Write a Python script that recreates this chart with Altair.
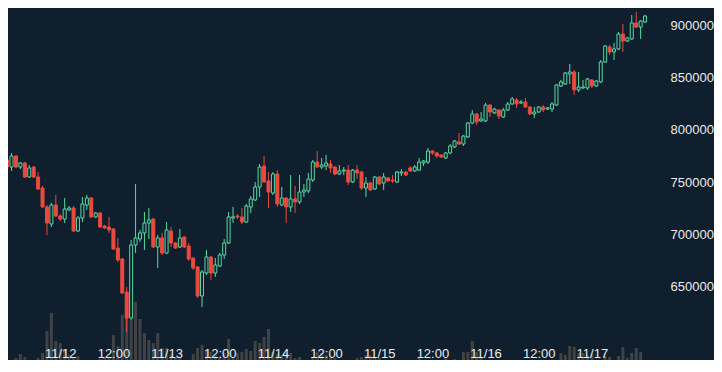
import altair as alt
import pandas as pd
import numpy as np

# BTC/JPY hourly candles, 2017-11-11 12:00 .. 2017-11-17 12:00 (UTC)
opens = [771200, 764400, 775000, 764400, 768300, 754800, 764400, 754800, 744200, 726000,
         709600, 727900, 717300, 714400, 723100, 725000, 702900, 715400, 727900, 734600,
         716400, 720200, 707700, 706700, 704800, 686500, 676000, 644200, 619200, 689400,
         695200, 701000, 710600, 714400, 687500, 696200, 681700, 702900, 691400, 687500,
         697100, 688500, 676900, 668300, 640400, 662500, 677900, 662500, 669200, 679800,
         691400, 715400, 717300, 716400, 711500, 726000, 732700, 745200, 765400, 751000,
         739400, 757700, 727900, 734600, 726000, 733700, 730800, 740400, 741400, 751900,
         769200, 764400, 765400, 767300, 764400, 757700, 760600, 761500, 750000, 761500,
         759600, 744200, 749000, 743300, 754800, 749000, 753900, 751900, 750000, 758700,
         759600, 763500, 760600, 761500, 768300, 769200, 779800, 777900, 776000, 773100,
         777900, 783700, 788500, 786500, 793300, 806700, 815400, 808700, 808700, 824000,
         816400, 819200, 812500, 819200, 825000, 828900, 826000, 826900, 822100, 815400,
         817300, 822100, 820200, 820200, 824000, 842300, 844200, 853800, 855800, 838500,
         840400, 840400, 848100, 842300, 846200, 865400, 879800, 875000, 877900, 892300,
         885600, 887500, 902900, 899000, 903800]

closes = [764400, 775000, 764400, 768300, 754800, 763500, 754800, 743300, 726000, 710600,
          727900, 717300, 714400, 724000, 725000, 702900, 715400, 728900, 734600, 716400,
          720200, 706700, 705800, 703900, 685600, 675000, 643300, 619200, 689400, 696200,
          701000, 710600, 713500, 687500, 696200, 681700, 703900, 691400, 686500, 696200,
          687500, 676000, 667300, 640400, 663500, 677900, 662500, 670200, 679800, 691400,
          716400, 716400, 716400, 711500, 726900, 733700, 745200, 764400, 750000, 740400,
          757700, 728900, 734600, 726000, 733700, 730800, 740400, 742300, 752900, 769200,
          764400, 766400, 768300, 763500, 757700, 760600, 761500, 750000, 761500, 758700,
          744200, 749000, 742300, 754800, 748100, 754800, 751000, 751000, 759600, 759600,
          756700, 760600, 764400, 769200, 770200, 779800, 777900, 775000, 774000, 777900,
          784600, 789400, 786500, 794200, 806700, 815400, 807700, 810600, 824000, 817300,
          820200, 813500, 819200, 825000, 829800, 825000, 826900, 822100, 815400, 817300,
          822100, 819200, 821200, 825000, 843300, 846200, 854800, 855800, 838500, 841300,
          841300, 849000, 842300, 847100, 865400, 880800, 875000, 877900, 892300, 885600,
          888500, 902900, 899000, 904800, 909600]

highs = [773100, 777900, 776000, 769200, 769200, 766400, 765400, 759600, 746200, 727900,
         729800, 737500, 719200, 734600, 726900, 726900, 717300, 735600, 737500, 735600,
         721200, 721200, 708700, 716400, 705800, 696200, 676900, 649100, 694200, 748100,
         703900, 721200, 725000, 715400, 699000, 701000, 711500, 706700, 692300, 704800,
         698100, 691400, 677900, 669200, 665400, 684600, 678900, 676900, 681700, 695200,
         721200, 726000, 719200, 725000, 728900, 736500, 750000, 767300, 775000, 759600,
         759600, 761500, 745200, 735600, 756700, 746200, 756700, 748100, 758700, 771200,
         779800, 773100, 776000, 771200, 765400, 766400, 764400, 766400, 762500, 766400,
         760600, 754800, 750000, 755800, 755800, 758700, 754800, 756700, 760600, 762500,
         760600, 765400, 766400, 773100, 771200, 782700, 780800, 778900, 776900, 778900,
         786500, 790400, 797100, 795200, 807700, 819200, 816400, 817300, 826000, 825000,
         821200, 820200, 821200, 826900, 831700, 830800, 828900, 830800, 823100, 822100,
         823100, 824000, 822100, 826900, 844200, 848100, 855800, 863500, 857700, 855800,
         848100, 850000, 849000, 848100, 867300, 881700, 881700, 883700, 894200, 901900,
         889400, 910600, 913500, 905800, 910600]

lows = [762500, 760600, 763500, 762500, 753900, 753900, 753900, 742300, 725000, 699000,
        706700, 716400, 712500, 710600, 722100, 701900, 701900, 711500, 723100, 715400,
        715400, 705800, 704800, 701000, 684600, 673100, 642300, 605800, 617300, 681700,
        692300, 684600, 695200, 686500, 667300, 679800, 680800, 687500, 685600, 686500,
        686500, 674000, 665400, 638500, 629800, 660600, 655800, 658700, 668300, 676000,
        690400, 710600, 714400, 709600, 710600, 720200, 731700, 735600, 749000, 725000,
        737500, 726000, 726900, 710600, 721200, 720200, 728900, 735600, 739400, 750000,
        763500, 762500, 761500, 758700, 756700, 756700, 756700, 747100, 749000, 752900,
        742300, 735600, 741400, 742300, 747100, 742300, 750000, 749000, 749000, 755800,
        755800, 759600, 759600, 760600, 765400, 767300, 776000, 773100, 773100, 772100,
        776900, 782700, 785600, 784600, 792300, 805800, 804800, 807700, 807700, 812500,
        815400, 810600, 811500, 818300, 824000, 821200, 825000, 821200, 814400, 811500,
        816400, 817300, 819200, 817300, 823100, 841300, 843300, 844200, 833700, 836500,
        839400, 838500, 840400, 841300, 845200, 864400, 872100, 867300, 876900, 875000,
        884600, 886500, 898100, 887500, 902900]

volumes = [90, 120, 140, 180, 150, 110, 100, 140, 190, 410,
           590, 310, 290, 230, 170, 150, 160, 80, 90, 90,
           110, 130, 150, 150, 370, 260, 570, 650, 520, 700,
           530, 390, 320, 290, 390, 240, 240, 180, 150, 150,
           120, 90, 180, 240, 270, 220, 200, 170, 150, 190,
           330, 150, 190,
           200, 230, 210, 310, 290, 350, 430, 200, 180, 170,
           190, 190, 140, 150, 100, 120, 150, 200, 190, 170,
           160, 140, 90, 80, 110, 110, 140, 150, 170, 170,
           150, 140, 120, 90, 70, 80, 60, 70, 70, 90,
           150, 110, 100, 90, 70, 60, 150, 90, 130, 100,
           200, 200, 310,
           200, 150, 110, 90, 70, 60, 60, 80, 90, 80,
           80, 90, 70, 100, 90, 70, 70, 80, 90, 190,
           170, 260, 250, 190, 190, 170, 180, 90, 100, 160,
           150, 90, 160, 250, 140, 190, 240, 200, 90]

price_ticks = [650000, 700000, 750000, 800000, 850000, 900000]
time_ticks = ["2017-11-12T00:00:00Z", "2017-11-12T12:00:00Z", "2017-11-13T00:00:00Z",
              "2017-11-13T12:00:00Z", "2017-11-14T00:00:00Z", "2017-11-14T12:00:00Z",
              "2017-11-15T00:00:00Z", "2017-11-15T12:00:00Z", "2017-11-16T00:00:00Z",
              "2017-11-16T12:00:00Z", "2017-11-17T00:00:00Z"]

BG = "#0f1f2e"
GREEN = "#55dba3"
RED = "#ec4a3e"
VOL = "#414243"
TEXT = "#ececec"
FONT = "Liberation Sans"

n = len(opens)
times = pd.date_range("2017-11-11 12:00", periods=n, freq="h")
df = pd.DataFrame({
    "t": times.strftime("%Y-%m-%dT%H:%M:%SZ"),
    "open": opens, "close": closes, "high": highs, "low": lows,
    "volume": volumes[:n],
})
df["dir"] = np.where(df["close"] >= df["open"], "up", "down")

tick_ms = [int(pd.Timestamp(s).value // 10**6) for s in time_ticks]

x_enc = alt.X(
    "t:T",
    scale=alt.Scale(type="utc",
                    domain=[alt.DateTime(year=2017, month=11, date=11, hours=13, minutes=20, utc=True),
                            alt.DateTime(year=2017, month=11, date=17, hours=13, minutes=7, utc=True)]),
    axis=alt.Axis(values=tick_ms, orient="bottom", offset=-13, ticks=False, domain=False,
                  grid=False, labelPadding=0, title=None, labelFontSize=13, labelColor=TEXT,
                  labelFont=FONT, labelOverlap=False, labelFlush=False, labelBound=False,
                  zindex=2,
                  labelExpr="utchours(datum.value) == 0 ? utcFormat(datum.value, '%m/%d') : utcFormat(datum.value, '%H:%M')"),
)

price_scale = alt.Scale(domain=[578860, 917300], nice=False, zero=False)
price_axis = alt.Axis(orient="right", values=price_ticks, format="d", labelAlign="left",
                      labelPadding=15, ticks=False, domain=False, grid=False, title=None,
                      labelFontSize=13, labelColor=TEXT, labelFont=FONT, zindex=2)

base = alt.Chart(df).encode(x=x_enc)

volume = base.mark_bar(size=3, color=VOL, clip=True).encode(
    y=alt.Y("volume:Q", scale=alt.Scale(domain=[120, 3640], nice=False, zero=False), axis=None)
)

wick = base.mark_rule(strokeWidth=1, clip=True).encode(
    y=alt.Y("low:Q", scale=price_scale, axis=price_axis),
    y2="high:Q",
    color=alt.Color("dir:N", scale=alt.Scale(domain=["up", "down"], range=[GREEN, RED]), legend=None),
)

body = base.mark_bar(size=3, strokeWidth=1, clip=True).encode(
    y=alt.Y("open:Q", scale=price_scale, axis=price_axis),
    y2="close:Q",
    fill=alt.Fill("dir:N", scale=alt.Scale(domain=["up", "down"], range=[BG, RED]), legend=None),
    stroke=alt.Stroke("dir:N", scale=alt.Scale(domain=["up", "down"], range=[GREEN, RED]), legend=None),
)

chart = alt.layer(volume, alt.layer(wick, body)).resolve_scale(y="independent").properties(
    width=647, height=352,
    autosize=alt.AutoSizeParams(type="none"),
    padding={"left": 0, "top": 0, "right": 59, "bottom": 0},
    background=BG,
).configure_view(stroke=None)

chart.save("out.html", embed_options={"renderer": "svg", "actions": False})
